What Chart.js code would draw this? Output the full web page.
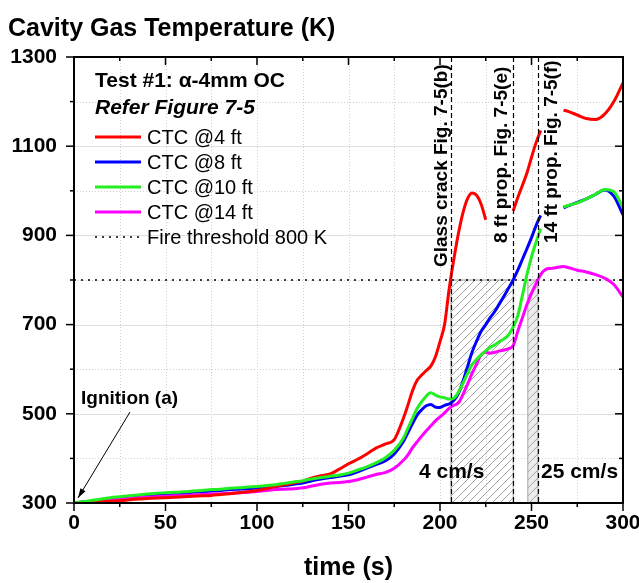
<!DOCTYPE html>
<html>
<head>
<meta charset="utf-8">
<script src="https://cdn.jsdelivr.net/npm/chart.js@4.4.1/dist/chart.umd.min.js"></script>
<style>
    html, body { margin: 0; padding: 0; background: #fff; }
    #chart { display: block; }
</style>
</head>
<body>
<canvas id="chart" width="639" height="583"></canvas>
<script>
// time axis shared by all four thermocouples (s)
const timeS = [
    0, 5, 10, 15, 20, 25, 30, 35, 40, 45, 50, 55, 60, 65, 70, 75, 80, 85, 90, 95,
    100, 105, 110, 115, 120, 125, 130, 135, 140, 145, 150, 155, 160, 165, 170, 175, 180,
    182.5, 185, 187.5, 190, 192.5, 195, 197.5, 200, 202.5, 205, 207.5, 210, 212.5, 215,
    217.5, 220, 222.5, 225, 227.5, 230, 232.5, 235, 237.5, 240, 242.5, 245, 247.5, 250,
    252.5, 255, 257.5, 260, 262.5, 265, 267.5, 270,
    275, 280, 285, 290, 295, 300
];

// cavity gas temperature (K), null = no reading
const ctc4ft = [
    300, 301, 302, 303, 304, 305, 307, 309, 310, 311, 312, 313, 314, 315, 316, 317, 319, 321, 323, 325,
    328, 332, 337, 341, 345, 349, 356, 361, 365, 376, 388, 398, 410, 423, 432, 442, 490,
    520, 552, 575, 587, 597, 607, 628, 662, 700, 780, 845, 903, 950, 982,
    995, 990, 970, 935, null, null, null, null, null, 955, 985, 1012, 1040, 1075,
    1108, 1135, null, null, null, null, 1181, 1178,
    1170, 1162, 1160, 1172, 1200, 1242
];
const ctc8ft = [
    300, 302, 304, 306, 308, 311, 313, 315, 317, 318, 320, 321, 322, 324, 325, 327, 328, 330, 331, 332,
    334, 336, 337, 339, 342, 345, 350, 354, 357, 360, 363, 370, 378, 386, 394, 410, 438,
    458, 478, 497, 509, 518, 521, 515, 514, 519, 522, 530, 545, 572, 605,
    638, 663, 685, 700, 716, 730, 747, 764, 782, 800, 822, 846, 870, 895,
    922, 945, null, null, null, null, 962, 966,
    974, 982, 992, 1002, 988, 946
];
const ctc10ft = [
    300, 303, 306, 309, 312, 314, 316, 318, 320, 322, 323, 324, 325, 327, 328, 330, 331, 333, 334, 336,
    337, 339, 341, 344, 347, 350, 354, 357, 360, 363, 367, 374, 381, 390, 401, 418, 445,
    468, 490, 512, 527, 540, 547, 542, 538, 536, 533, 535, 548, 568, 590,
    610, 622, 632, 641, 649, 655, 662, 668, 677, 695, 720, 765, 812, 852,
    885, 915, null, null, null, null, 964, 967,
    973, 982, 992, 1003, 998, 962
];
const ctc14ft = [
    300, 302, 303, 305, 307, 309, 310, 312, 313, 314, 315, 316, 317, 318, 319, 320, 321, 322, 323, 324,
    326, 328, 330, 331, 332, 334, 338, 342, 345, 346, 348, 352, 358, 364, 368, 378, 396,
    408, 424, 437, 450, 462, 473, 484, 493, 502, 512, 519, 524, 543, 566,
    590, 612, 632, 638, 636, 638, 641, 643, 646, 653, 685, 715, 745, 770,
    792, 812, 823, 826, 827, 829, 830, 828,
    822, 818, 812, 804, 790, 762
];

const seriesLabels = ['CTC @4 ft', 'CTC @8 ft', 'CTC @10 ft', 'CTC @14 ft'];
const seriesColors = ['#ff0000', '#0000ff', '#22ee22', '#ff00ff'];
const fireThresholdK = 800;

// event markers (s) and shaded spread windows
const markerS = [206, 240, 253.5];
const markerLabels = ['Glass crack Fig. 7-5(b)', '8 ft prop. Fig. 7-5(e)', '14 ft prop. Fig. 7-5(f)'];
const bandStartS = [206, 248];
const bandEndS = [240, 253.5];

const FONT = '"Liberation Sans", Arial, sans-serif';

function toPoints(values) {
    return timeS.map((t, i) => ({ x: t, y: values[i] }));
}

function line(ctx, x0, y0, x1, y1) {
    ctx.beginPath();
    ctx.moveTo(x0, y0);
    ctx.lineTo(x1, y1);
    ctx.stroke();
}

function hatchBox(ctx, x0, y0, x1, y1, fill) {
    ctx.save();
    ctx.beginPath();
    ctx.rect(x0, y0, x1 - x0, y1 - y0);
    ctx.clip();
    if (fill) {
        ctx.fillStyle = fill;
        ctx.fillRect(x0, y0, x1 - x0, y1 - y0);
    }
    ctx.strokeStyle = '#8c8c8c';
    ctx.lineWidth = 0.8;
    const h = y1 - y0;
    ctx.beginPath();
    for (let k = x0 - h; k < x1; k += 8) {
        ctx.moveTo(k, y1);
        ctx.lineTo(k + h, y0);
    }
    ctx.stroke();
    ctx.restore();
    ctx.save();
    ctx.strokeStyle = '#a0a0a0';
    ctx.lineWidth = 1;
    ctx.strokeRect(x0, y0, x1 - x0, y1 - y0);
    ctx.restore();
}

function vText(ctx, text, x, y) {
    ctx.save();
    ctx.translate(x, y);
    ctx.rotate(-Math.PI / 2);
    ctx.textAlign = 'left';
    ctx.textBaseline = 'alphabetic';
    ctx.fillText(text, 0, 0);
    ctx.restore();
}

const overlay = {
    id: 'overlay',
    beforeDatasetsDraw(chart) {
        const { ctx, chartArea: { left, right, top, bottom } } = chart;
        const xs = chart.scales.x;
        const ys = chart.scales.y;
        ctx.save();
        ctx.lineWidth = 1;
        // grid
        for (let t = 25; t < 300; t += 25) {
            const px = Math.round(xs.getPixelForValue(t)) + 0.5;
            ctx.strokeStyle = '#cfcfcf';
            ctx.setLineDash([1, 2]);
            line(ctx, px, top, px, bottom);
        }
        for (let v = 400; v < 1300; v += 100) {
            const py = Math.round(ys.getPixelForValue(v)) + 0.5;
            const major = (v - 300) % 200 === 0;
            ctx.strokeStyle = major ? '#e0e0e0' : '#cfcfcf';
            ctx.setLineDash(major ? [] : [1, 2]);
            line(ctx, left, py, right, py);
        }
        ctx.restore();

        // hatched windows below the fire threshold
        const yTop = ys.getPixelForValue(fireThresholdK);
        const yBot = ys.getPixelForValue(300);
        bandStartS.forEach((s, i) => {
            const x0 = xs.getPixelForValue(s);
            const x1 = xs.getPixelForValue(bandEndS[i]);
            hatchBox(ctx, x0, yTop, x1, yBot, i === 1 ? '#ececec' : null);
        });
    },
    afterDatasetsDraw(chart) {
        const { ctx, chartArea: { left, right, top, bottom } } = chart;
        const xs = chart.scales.x;
        const ys = chart.scales.y;

        // event markers
        ctx.save();
        ctx.strokeStyle = '#000';
        ctx.lineWidth = 1.2;
        ctx.setLineDash([5, 3]);
        markerS.forEach(s => {
            const px = Math.round(xs.getPixelForValue(s)) + 0.5;
            line(ctx, px, top, px, bottom);
        });
        ctx.restore();

        // frame and ticks
        ctx.save();
        ctx.strokeStyle = '#000';
        ctx.lineWidth = 2;
        ctx.strokeRect(left, top, right - left, bottom - top);
        ctx.lineWidth = 1.5;
        for (let t = 0; t <= 300; t += 25) {
            const px = xs.getPixelForValue(t);
            const len = t % 50 === 0 ? 8 : 4;
            line(ctx, px, bottom, px, bottom + len);
            line(ctx, px, top, px, top + len);
        }
        for (let v = 300; v <= 1300; v += 100) {
            const py = ys.getPixelForValue(v);
            const len = (v - 300) % 200 === 0 ? 8 : 4;
            line(ctx, left, py, left - len, py);
            line(ctx, right, py, right - len, py);
        }
        ctx.restore();

        ctx.save();
        ctx.fillStyle = '#000';

        // marker labels
        ctx.font = 'bold 19px ' + FONT;
        vText(ctx, markerLabels[0], xs.getPixelForValue(markerS[0]) - 4, 267);
        vText(ctx, markerLabels[1], xs.getPixelForValue(markerS[1]) - 6, 243);
        vText(ctx, markerLabels[2], xs.getPixelForValue(markerS[2]) + 19, 243);

        // spread rate labels
        ctx.font = 'bold 21px ' + FONT;
        ctx.textAlign = 'left';
        ctx.textBaseline = 'alphabetic';
        ctx.fillText('4 cm/s', 419, 478);
        ctx.fillText('25 cm/s', 541, 478);

        // ignition arrow
        ctx.font = 'bold 19px ' + FONT;
        ctx.fillText('Ignition (a)', 81, 404);
        const ax0 = 130, ay0 = 412;
        const ax1 = xs.getPixelForValue(0) + 4, ay1 = ys.getPixelForValue(300) - 5;
        ctx.strokeStyle = '#000';
        ctx.lineWidth = 1;
        line(ctx, ax0, ay0, ax1, ay1);
        const ang = Math.atan2(ay1 - ay0, ax1 - ax0);
        ctx.beginPath();
        ctx.moveTo(ax1, ay1);
        ctx.lineTo(ax1 - 10 * Math.cos(ang - 0.3), ay1 - 10 * Math.sin(ang - 0.3));
        ctx.lineTo(ax1 - 10 * Math.cos(ang + 0.3), ay1 - 10 * Math.sin(ang + 0.3));
        ctx.closePath();
        ctx.fill();

        // title block and legend
        ctx.font = 'bold 21px ' + FONT;
        ctx.fillText('Test #1: \u03B1-4mm OC', 95, 87);
        ctx.font = 'italic bold 21px ' + FONT;
        ctx.fillText('Refer Figure 7-5', 95, 114);

        const rows = [137, 162, 187, 212, 237];
        chart.data.datasets.forEach((ds, i) => {
            const y = rows[i];
            ctx.save();
            ctx.strokeStyle = ds.borderColor;
            ctx.lineWidth = ds.borderDash ? 1.5 : 3;
            ctx.setLineDash(ds.borderDash || []);
            line(ctx, 95, y, 141, y);
            ctx.restore();
            ctx.font = '20px ' + FONT;
            ctx.fillText(ds.label, 147, y + 7);
        });

        // y axis title
        ctx.font = 'bold 25px ' + FONT;
        ctx.fillText('Cavity Gas Temperature (K)', 8, 36);
        ctx.restore();
    }
};

const datasets = seriesLabels.map((label, i) => ({
    label,
    data: toPoints([ctc4ft, ctc8ft, ctc10ft, ctc14ft][i]),
    borderColor: seriesColors[i],
    borderWidth: 3,
    pointRadius: 0,
    cubicInterpolationMode: 'monotone',
    spanGaps: false,
    order: [1, 3, 0, 2][i]
}));
datasets.push({
    label: 'Fire threshold ' + fireThresholdK + ' K',
    data: [{ x: 0, y: fireThresholdK }, { x: 300, y: fireThresholdK }],
    borderColor: '#000',
    borderWidth: 1.5,
    borderDash: [2, 5],
    pointRadius: 0,
    order: 4
});

const tickFont = { family: FONT, size: 21, weight: 'bold' };

new Chart(document.getElementById('chart'), {
    type: 'line',
    data: { datasets },
    options: {
        responsive: false,
        animation: false,
        devicePixelRatio: 1,
        layout: { padding: { left: 0, right: 16, top: 57, bottom: 0 } },
        plugins: {
            legend: { display: false },
            tooltip: { enabled: false }
        },
        scales: {
            x: {
                type: 'linear',
                min: 0,
                max: 300,
                grid: { display: false, drawTicks: false },
                border: { display: false },
                ticks: {
                    stepSize: 25,
                    autoSkip: false,
                    maxRotation: 0,
                    padding: 8,
                    color: '#000',
                    font: tickFont,
                    callback: v => (v % 50 === 0 ? v : '')
                },
                title: {
                    display: true,
                    text: 'time (s)',
                    color: '#000',
                    font: { family: FONT, size: 25, weight: 'bold' },
                    padding: { top: 0, bottom: 0 }
                },
                afterFit: s => {
                    s.height = 80;
                    s.paddingLeft = 0;
                    s.paddingRight = 0;
                }
            },
            y: {
                type: 'linear',
                min: 300,
                max: 1300,
                grid: { display: false, drawTicks: false },
                border: { display: false },
                ticks: {
                    stepSize: 100,
                    autoSkip: false,
                    padding: 17,
                    color: '#000',
                    font: tickFont,
                    callback: v => ((v - 300) % 200 === 0 ? v : '')
                },
                afterFit: s => {
                    s.width = 74;
                    s.paddingTop = 0;
                    s.paddingBottom = 0;
                }
            }
        }
    },
    plugins: [overlay]
});
</script>
</body>
</html>
